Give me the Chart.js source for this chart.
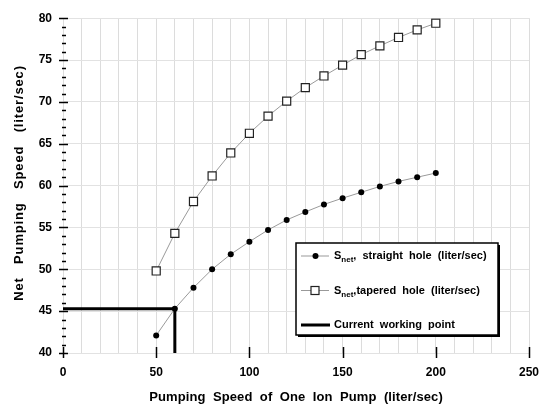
<!DOCTYPE html>
<html>
<head>
<meta charset="utf-8">
<script src="https://cdn.jsdelivr.net/npm/chart.js@4"></script>
<style>
  html, body { margin: 0; padding: 0; background: #fff; }
  #wrap { width: 553px; height: 406px; position: relative; }
</style>
</head>
<body>
<div id="wrap"><canvas id="pumpChart"></canvas></div>
<script>
// data
const pumpSpeed = [50, 60, 70, 80, 90, 100, 110, 120, 130, 140, 150, 160, 170, 180, 190, 200];
const straightHole = [42.1, 45.3, 47.8, 50.0, 51.8, 53.3, 54.7, 55.9, 56.85, 57.75, 58.5, 59.2, 59.9, 60.5, 61.0, 61.5];
const taperedHole = [49.8, 54.3, 58.1, 61.15, 63.9, 66.25, 68.3, 70.1, 71.7, 73.1, 74.4, 75.65, 76.7, 77.7, 78.6, 79.4];
const workingX = [0, 60, 60];
const workingY = [45.3, 45.3, 40];
const xTicks = [0, 50, 100, 150, 200, 250];
const yTicks = [40, 45, 50, 55, 60, 65, 70, 75, 80];

const FONT = "Arial, 'Liberation Sans', sans-serif";

function toPoints(xs, ys) {
  return xs.map((x, i) => ({ x: x, y: ys[i] }));
}

// tick marks, axis titles and the boxed legend
const extras = {
  id: "extras",
  afterDraw(chart) {
    const c = chart.ctx;
    const xs = chart.scales.x, ys = chart.scales.y;
    const left = chart.chartArea.left, bottom = chart.chartArea.bottom;
    c.save();
    c.strokeStyle = "#000";
    c.lineWidth = 1.5;
    // y ticks: major every 5, minor every 1
    for (let v = 40; v <= 80; v++) {
      const py = Math.round(ys.getPixelForValue(v)) + 0.5;
      const major = yTicks.includes(v);
      c.beginPath();
      c.moveTo(major ? left - 4 : left - 1, py);
      c.lineTo(major ? left + 5 : left + 3, py);
      c.stroke();
    }
    // x ticks
    xTicks.forEach(v => {
      const px = Math.round(xs.getPixelForValue(v)) + 0.5;
      c.beginPath();
      c.moveTo(px, bottom - 6);
      c.lineTo(px, bottom + 5);
      c.stroke();
    });

    // axis titles
    c.fillStyle = "#000";
    c.font = "bold 13px " + FONT;
    c.textAlign = "center";
    c.textBaseline = "middle";
    c.letterSpacing = "0.1px";
    c.fillText("Pumping  Speed  of  One  Ion  Pump  (liter/sec)", (xs.left + xs.right) / 2, 397);
    c.save();
    c.translate(19, 183);
    c.rotate(-Math.PI / 2);
    c.letterSpacing = "0.85px";
    c.fillText("Net   Pumping   Speed   (liter/sec)", 0, 0);
    c.restore();
    c.letterSpacing = "0px";

    // legend box
    const bx = 296, by = 243, bw = 202, bh = 92;
    c.fillStyle = "#000";
    c.fillRect(bx + 2, by + 2, bw, bh);
    c.fillStyle = "#fff";
    c.fillRect(bx, by, bw, bh);
    c.lineWidth = 1.5;
    c.strokeStyle = "#000";
    c.strokeRect(bx, by, bw, bh);

    const rows = [256, 290.5, 325];
    // row 1
    c.lineWidth = 1;
    c.strokeStyle = "#999";
    c.beginPath(); c.moveTo(301, rows[0]); c.lineTo(329, rows[0]); c.stroke();
    c.fillStyle = "#000";
    c.beginPath(); c.arc(315.5, rows[0], 3, 0, Math.PI * 2); c.fill();
    // row 2
    c.beginPath(); c.moveTo(301, rows[1]); c.lineTo(329, rows[1]); c.stroke();
    c.fillStyle = "#fff";
    c.fillRect(311, rows[1] - 4, 8, 8);
    c.strokeStyle = "#222";
    c.lineWidth = 1.2;
    c.strokeRect(311, rows[1] - 4, 8, 8);
    // row 3
    c.strokeStyle = "#000";
    c.lineWidth = 3;
    c.beginPath(); c.moveTo(301, rows[2]); c.lineTo(330, rows[2]); c.stroke();

    c.fillStyle = "#000";
    c.textAlign = "left";
    c.textBaseline = "middle";
    const labels = [
      [",  straight  hole  (liter/sec)", true],
      [",tapered  hole  (liter/sec)", true],
      ["Current  working  point", false]
    ];
    labels.forEach((l, i) => {
      let x = 334;
      const y = rows[i];
      if (l[1]) {
        c.font = "bold 11px " + FONT;
        c.fillText("S", x, y);
        x += c.measureText("S").width;
        c.font = "bold 8px " + FONT;
        c.fillText("net", x, y + 4);
        x += c.measureText("net").width;
      }
      c.font = "bold 11px " + FONT;
      c.fillText(l[0], x, y);
    });
    c.restore();
  }
};

new Chart(document.getElementById("pumpChart"), {
  type: "line",
  data: {
    datasets: [
      {
        label: "Snet, straight hole (liter/sec)",
        data: toPoints(pumpSpeed, straightHole),
        borderColor: "#9a9a9a",
        borderWidth: 1,
        pointStyle: "circle",
        pointRadius: 3,
        pointBackgroundColor: "#000",
        pointBorderColor: "#000",
        pointBorderWidth: 0,
        tension: 0
      },
      {
        label: "Snet,tapered hole (liter/sec)",
        data: toPoints(pumpSpeed, taperedHole),
        borderColor: "#9a9a9a",
        borderWidth: 1,
        pointStyle: "rect",
        pointRadius: 5.7,
        pointBackgroundColor: "#fff",
        pointBorderColor: "#222",
        pointBorderWidth: 1.2,
        tension: 0
      },
      {
        label: "Current working point",
        data: toPoints(workingX, workingY),
        borderColor: "#000",
        borderWidth: 3,
        pointRadius: 0,
        tension: 0,
        clip: false
      }
    ]
  },
  options: {
    responsive: true,
    maintainAspectRatio: false,
    animation: false,
    layout: { padding: { top: 12, right: 24, left: 0, bottom: 0 } },
    plugins: {
      legend: { display: false },
      tooltip: { enabled: false }
    },
    scales: {
      x: {
        type: "linear",
        min: 0,
        max: 250,
        border: { display: false },
        grid: { color: "#dcdcdc", lineWidth: 1, drawTicks: false },
        ticks: {
          stepSize: 10,
          autoSkip: false,
          maxRotation: 0,
          padding: 12,
          color: "#000",
          font: { family: FONT, size: 12, weight: "bold" },
          callback: v => (xTicks.includes(v) ? String(v) : "")
        },
        afterFit: s => { s.height = 53; }
      },
      y: {
        type: "linear",
        min: 40,
        max: 80,
        border: { display: false },
        grid: {
          color: ctx => (yTicks.includes(ctx.tick.value) ? "#e2e2e2" : "rgba(0,0,0,0)"),
          lineWidth: 1,
          drawTicks: false
        },
        ticks: {
          stepSize: 1,
          autoSkip: false,
          padding: 11,
          color: "#000",
          font: { family: FONT, size: 12, weight: "bold" },
          callback: v => (yTicks.includes(v) ? String(v) : "")
        },
        afterFit: s => { s.width = 63; }
      }
    }
  },
  plugins: [extras]
});
</script>
</body>
</html>
